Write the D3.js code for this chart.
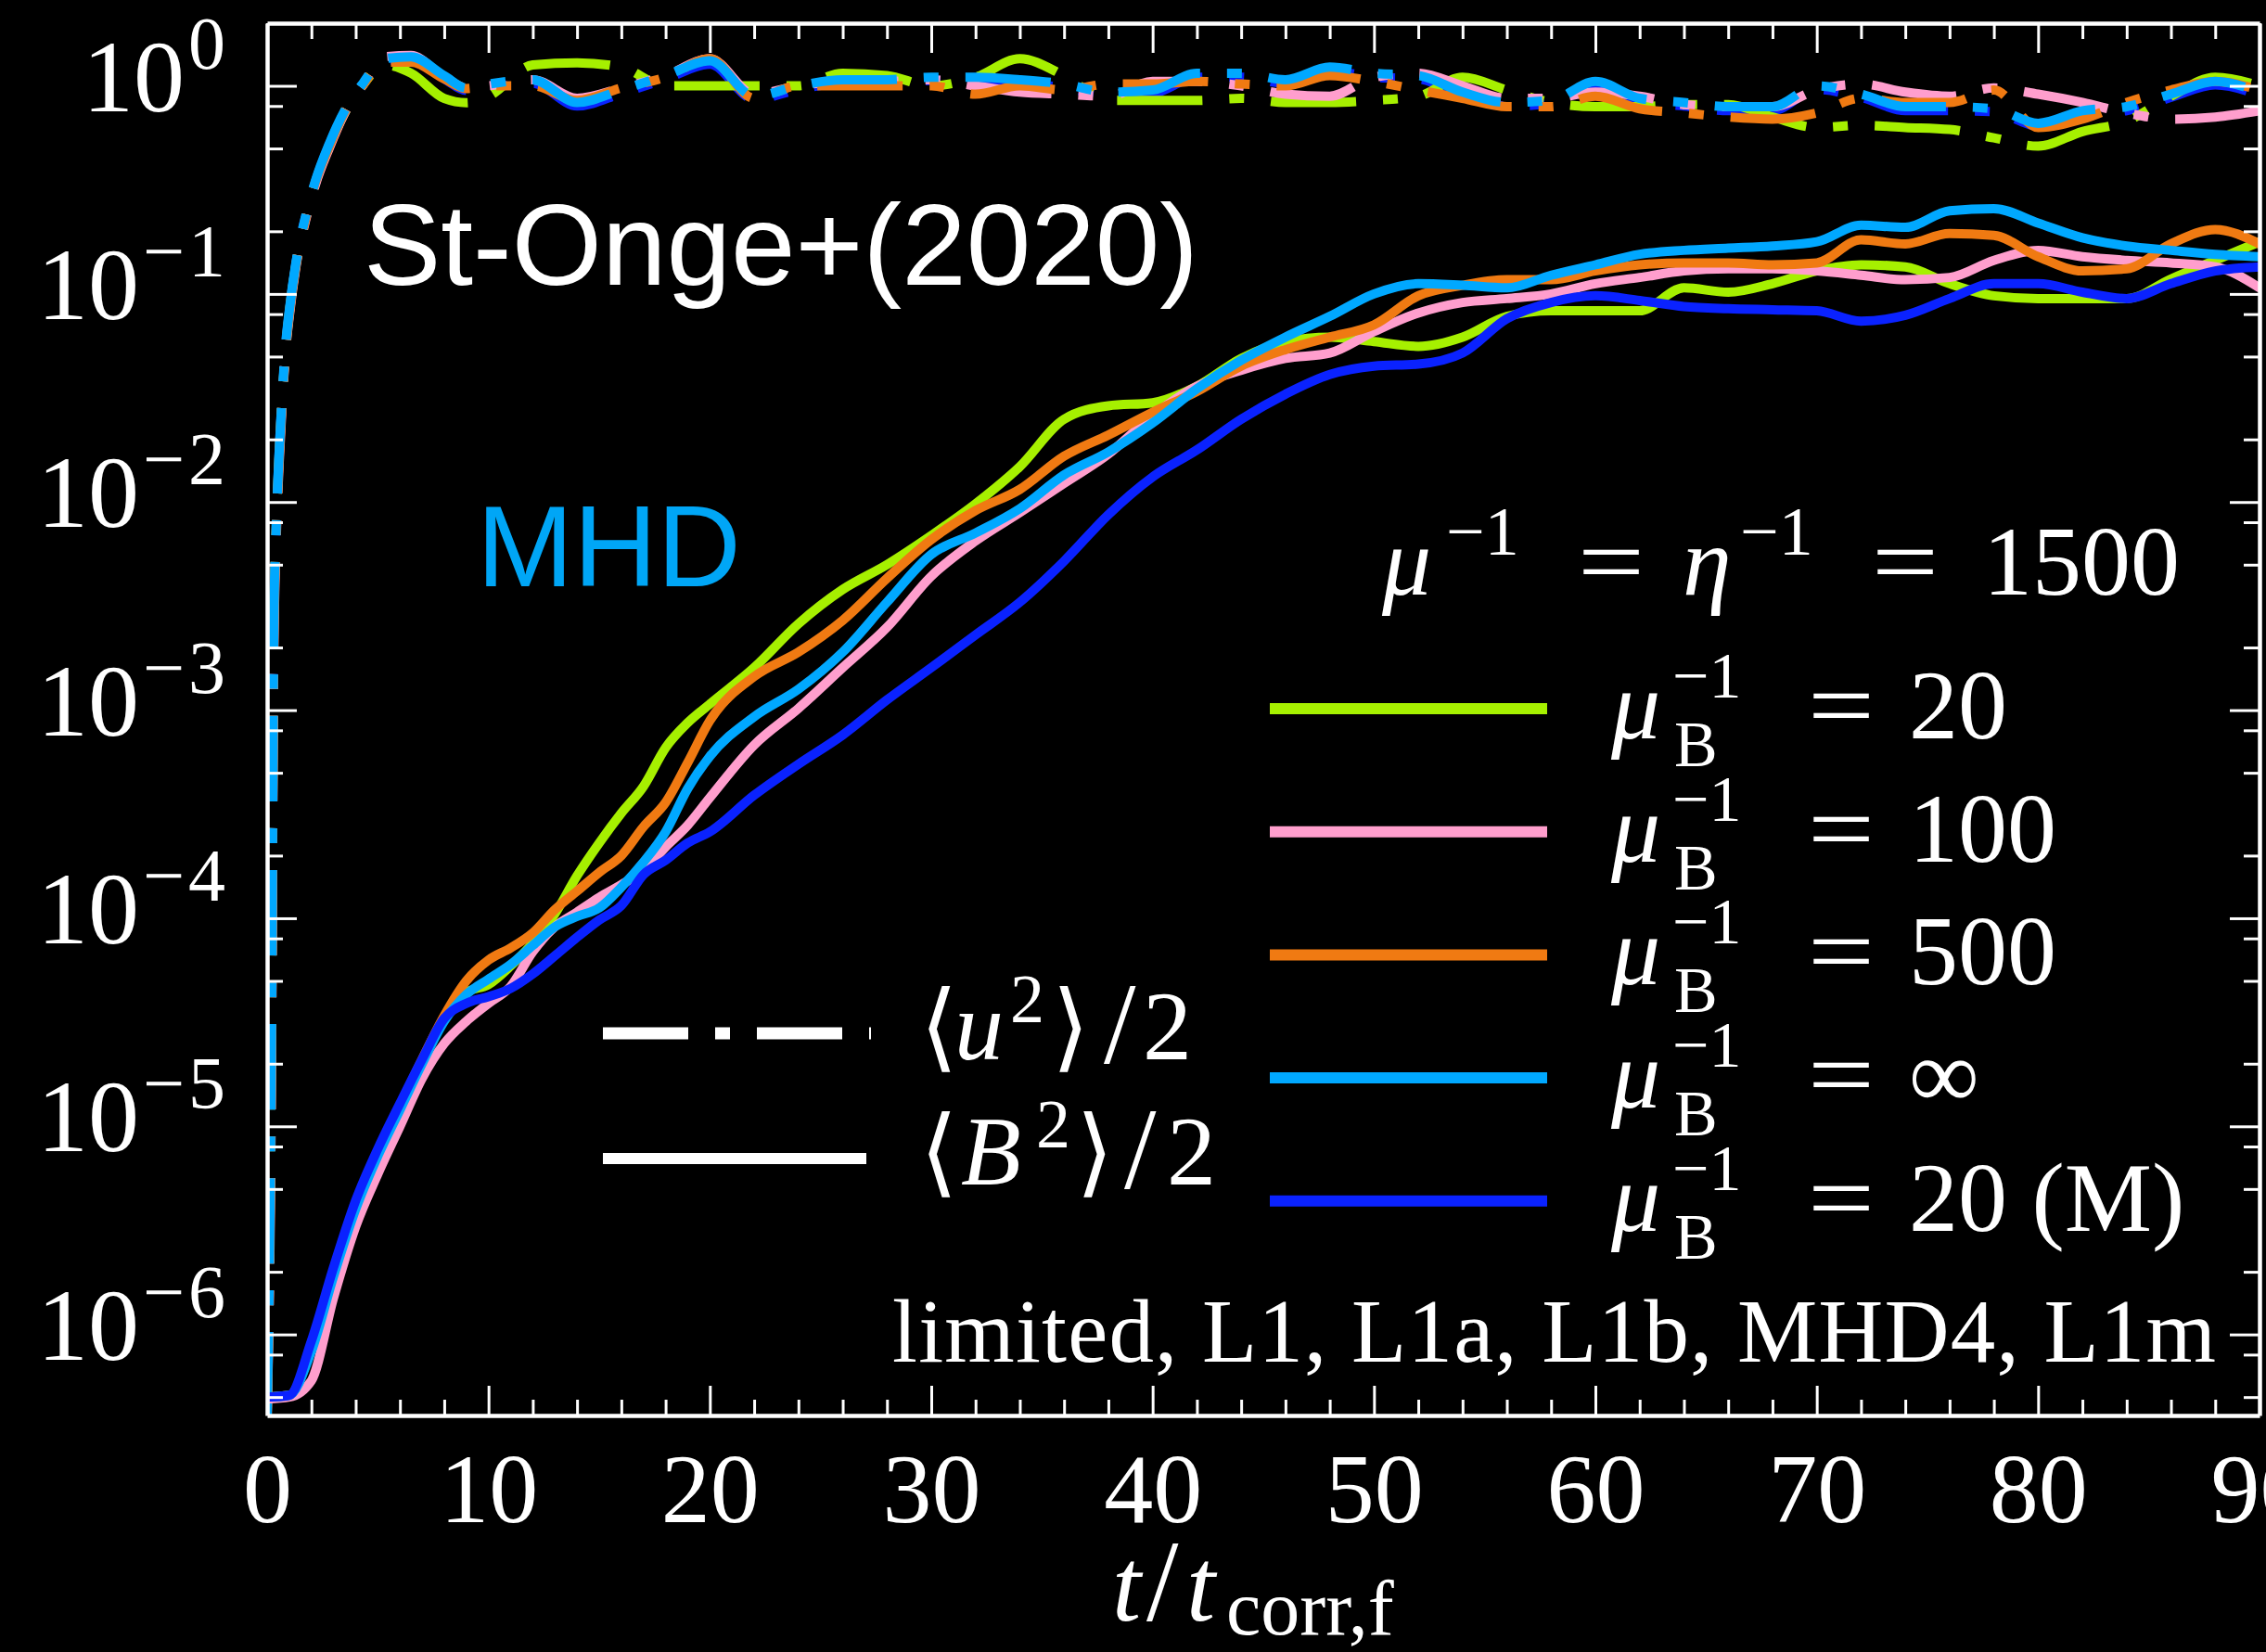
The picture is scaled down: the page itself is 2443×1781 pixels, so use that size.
<!DOCTYPE html>
<html>
<head>
<meta charset="utf-8">
<script src="https://cdn.jsdelivr.net/npm/d3@7"></script>
<style>
  html, body { margin: 0; padding: 0; background: #000; }
  svg { display: block; }
</style>
</head>
<body>
<svg id="chart" width="2443" height="1781"></svg>
<script>
// ---------- data ----------
// time grid for the magnetic energy <B^2>/2
const tB = [0,1,2,3,4,5,6,7,8,9,10,11,12,13,14,15,16,17,18,19,20,
  22,24,26,28,30,32,34,36,38,40,42,44,46,48,50,52,54,56,58,60,
  62,64,66,68,70,72,74,76,78,80,82,84,86,88,90];

// <B^2>/2, one array per run
const bMu20 = [5.0e-7,5.1e-7,8.5e-7,1.9e-6,4.1e-6,7.4e-6,1.2e-5,2.0e-5,3.3e-5,4.4e-5,4.8e-5,5.9e-5,7.6e-5,1.05e-4,1.6e-4,2.3e-4,3.2e-4,4.3e-4,6.6e-4,8.7e-4,1.07e-3,
  1.6e-3,2.6e-3,3.8e-3,5.0e-3,6.9e-3,9.8e-3,1.48e-2,2.5e-2,2.9e-2,3.0e-2,3.6e-2,4.9e-2,5.9e-2,6.2e-2,5.9e-2,5.6e-2,6.2e-2,7.8e-2,8.3e-2,8.3e-2,
  8.3e-2,0.107,0.102,0.112,0.129,0.138,0.135,0.112,0.098,0.095,0.095,0.095,0.118,0.145,0.178];
const bMu100 = [4.9e-7,5.0e-7,6.0e-7,1.5e-6,3.3e-6,5.9e-6,1.0e-5,1.7e-5,2.5e-5,3.2e-5,3.9e-5,4.7e-5,6.9e-5,9.1e-5,1.07e-4,1.26e-4,1.45e-4,1.7e-4,2.2e-4,2.8e-4,3.8e-4,
  6.8e-4,1.02e-3,1.6e-3,2.5e-3,4.4e-3,6.5e-3,8.9e-3,1.23e-2,1.7e-2,2.6e-2,3.6e-2,4.3e-2,4.9e-2,5.2e-2,6.6e-2,8.1e-2,9.1e-2,9.5e-2,0.100,0.112,
  0.120,0.129,0.132,0.132,0.129,0.123,0.117,0.120,0.145,0.162,0.151,0.145,0.141,0.135,0.107];
const bMu500 = [5.0e-7,5.1e-7,8.7e-7,2.0e-6,4.2e-6,7.6e-6,1.26e-5,2.1e-5,3.4e-5,5.0e-5,6.3e-5,7.2e-5,8.5e-5,1.10e-4,1.35e-4,1.66e-4,2.0e-4,2.75e-4,3.6e-4,5.6e-4,8.9e-4,
  1.45e-3,1.9e-3,2.7e-3,4.3e-3,6.6e-3,9.1e-3,1.15e-2,1.66e-2,2.1e-2,2.7e-2,3.4e-2,4.5e-2,5.4e-2,6.2e-2,7.1e-2,9.8e-2,0.110,0.117,0.117,0.129,
  0.138,0.141,0.141,0.138,0.141,0.182,0.174,0.195,0.191,0.151,0.129,0.132,0.174,0.204,0.174];
const bMuInf = [5.0e-7,5.1e-7,8.3e-7,1.9e-6,4.0e-6,7.2e-6,1.2e-5,2.0e-5,3.2e-5,4.3e-5,5.1e-5,6.0e-5,7.4e-5,9.1e-5,1.02e-4,1.12e-4,1.41e-4,1.86e-4,2.6e-4,4.2e-4,6.0e-4,
  9.3e-4,1.26e-3,1.9e-3,3.3e-3,5.6e-3,7.1e-3,9.3e-3,1.35e-2,1.74e-2,2.4e-2,3.5e-2,4.8e-2,6.2e-2,7.8e-2,0.100,0.112,0.110,0.107,0.123,0.138,
  0.155,0.162,0.166,0.170,0.178,0.214,0.209,0.251,0.257,0.219,0.186,0.170,0.162,0.155,0.151];
const bMu20M = [5.0e-7,5.1e-7,9.3e-7,2.1e-6,4.4e-6,7.8e-6,1.29e-5,2.1e-5,3.3e-5,3.9e-5,4.2e-5,4.6e-5,5.4e-5,6.6e-5,8.1e-5,9.8e-5,1.15e-4,1.62e-4,1.9e-4,2.3e-4,2.6e-4,
  3.9e-4,5.5e-4,7.6e-4,1.12e-3,1.6e-3,2.3e-3,3.3e-3,5.2e-3,8.7e-3,1.32e-2,1.78e-2,2.5e-2,3.3e-2,4.1e-2,4.5e-2,4.6e-2,5.2e-2,7.6e-2,9.1e-2,9.8e-2,
  9.3e-2,8.7e-2,8.5e-2,8.4e-2,8.3e-2,7.4e-2,7.9e-2,9.5e-2,0.112,0.112,0.102,0.095,0.112,0.129,0.135];

// time grid for the kinetic energy <u^2>/2
const tU = [0,0.2,0.3,0.4,0.55,0.7,0.85,1,1.3,1.8,2.2,2.8,3.5,4.3,5.3,6.5,8,9,
  10,12,14,16,18,20,22,24,26,28,30,32,34,36,38,40,42,44,46,48,50,
  52,54,56,58,60,62,64,66,68,70,72,74,76,78,80,82,84,86,88,90];

// <u^2>/2, one array per run
const uMu20 = [4.0e-7,3.0e-5,2.4e-3,6.9e-3,1.75e-2,3.4e-2,5.7e-2,8.1e-2,0.138,0.245,0.345,0.51,0.74,1.0,1.26,1.15,0.87,0.83,
  0.891,1.26,1.29,1.23,1.0,1.0,1.0,1.0,1.15,1.12,1.0,1.10,1.35,1.12,0.851,0.851,0.851,0.871,0.832,0.832,0.851,
  0.891,1.10,0.955,0.832,0.794,0.794,0.813,0.813,0.708,0.631,0.646,0.631,0.617,0.562,0.513,0.603,0.676,0.891,1.10,1.0];
const uMu100 = [4.0e-7,2.0e-5,1.8e-3,6.0e-3,1.6e-2,3.2e-2,5.5e-2,7.8e-2,0.135,0.24,0.34,0.50,0.74,1.0,1.38,1.40,1.10,0.98,
  1.0,1.07,0.871,0.977,1.12,1.35,0.912,1.0,1.05,1.05,1.07,1.0,0.933,0.912,0.891,1.05,1.05,1.0,0.912,0.891,1.10,
  1.15,1.0,0.871,0.871,0.933,0.891,0.813,0.794,0.794,0.955,1.02,0.933,0.891,0.977,0.912,0.832,0.741,0.692,0.708,0.759];
const uMu500 = [4.0e-7,2.5e-5,2.1e-3,6.5e-3,1.7e-2,3.3e-2,5.6e-2,8.0e-2,0.137,0.245,0.35,0.51,0.75,1.0,1.30,1.30,1.08,0.97,
  1.0,1.0,0.851,0.977,1.10,1.35,0.871,1.0,1.0,1.0,1.0,0.912,1.0,0.955,1.02,1.02,1.05,1.02,1.0,1.12,1.05,
  0.955,0.871,0.794,0.794,0.891,0.776,0.741,0.708,0.692,0.741,0.871,0.832,0.832,0.955,0.631,0.692,0.832,0.955,1.05,0.955];
const uMuInf = [4.0e-7,3.2e-5,2.5e-3,7.1e-3,1.8e-2,3.5e-2,5.9e-2,8.3e-2,0.141,0.251,0.355,0.525,0.759,1.02,1.35,1.38,1.12,0.977,
  1.02,1.07,0.832,0.955,1.12,1.32,0.891,1.0,1.07,1.07,1.10,1.10,1.07,1.02,0.933,0.955,1.15,1.15,1.07,1.23,1.15,
  1.12,0.933,0.832,0.851,1.05,0.871,0.832,0.794,0.794,1.0,0.912,0.794,0.794,0.776,0.661,0.759,0.794,0.912,1.05,0.933];
const uMu20M = [4.0e-7,3.0e-5,2.4e-3,7.0e-3,1.8e-2,3.4e-2,5.8e-2,8.2e-2,0.14,0.25,0.35,0.52,0.75,1.0,1.32,1.35,1.08,0.95,
  0.98,1.03,0.80,0.92,1.08,1.27,0.86,0.96,1.03,1.03,1.06,1.06,1.03,0.98,0.90,0.92,1.10,1.10,1.03,1.18,1.10,
  1.08,0.90,0.80,0.82,1.01,0.84,0.80,0.76,0.76,0.96,0.88,0.76,0.76,0.75,0.64,0.73,0.76,0.88,1.01,0.90];

// runs: legend values and colours
const runLabels = ["20", "100", "500", "\u221E", "20 (M)"];
const runColors = ["#a6f000", "#ff9ecd", "#f07a12", "#00a8ff", "#0a22ff"];
const bRuns = [bMu20, bMu100, bMu500, bMuInf, bMu20M];
const uRuns = [uMu20, uMu100, uMu500, uMuInf, uMu20M];

// ticks
const xMajorTicks = [0,10,20,30,40,50,60,70,80,90];
const xMinorTicks = [2,4,6,8,12,14,16,18,22,24,26,28,32,34,36,38,42,44,46,48,
  52,54,56,58,62,64,66,68,72,74,76,78,82,84,86,88];
const yMajorTicks = [1e-6,1e-5,1e-4,1e-3,1e-2,1e-1,1];
const yTickExponents = ["\u22126","\u22125","\u22124","\u22123","\u22122","\u22121","0"];
const yMinorTicks = [5e-7,8e-7,2e-6,5e-6,8e-6,2e-5,5e-5,8e-5,2e-4,5e-4,8e-4,
  2e-3,5e-3,8e-3,2e-2,5e-2,8e-2,0.2,0.5,0.8];

// ---------- drawing ----------
const W = 2443, H = 1781;
const serif = "'Liberation Serif', 'Times New Roman', serif";
const sans = "'Liberation Sans', Arial, Helvetica, sans-serif";
const svg = d3.select("#chart");
svg.append("rect").attr("width", W).attr("height", H).attr("fill", "#000");

const plotL = 288, plotR = 2436, plotT = 25, plotB = 1526;
const x = d3.scaleLinear().domain([0, 90]).range([plotL, plotR]);
const y = d3.scaleLog().domain([4.08e-7, 2]).range([plotB, plotT]);

svg.append("defs").append("clipPath").attr("id", "plotClip")
  .append("rect").attr("x", plotL).attr("y", plotT)
  .attr("width", plotR - plotL).attr("height", plotB - plotT);

const plot = svg.append("g").attr("clip-path", "url(#plotClip)");

function lineFor(times) {
  return d3.line()
    .x((d, i) => x(times[i]))
    .y(d => y(d))
    .curve(d3.curveMonotoneX);
}

// kinetic energy, dash-dotted
const uOrder = [4, 0, 1, 2, 3];
uOrder.forEach(k => {
  plot.append("path")
    .attr("d", lineFor(tU)(uRuns[k]))
    .attr("fill", "none")
    .attr("stroke", runColors[k])
    .attr("stroke-width", 10)
    .attr("stroke-dasharray", "92,29,16,29")
    .attr("stroke-linejoin", "round");
});

// magnetic energy, solid
[0, 1, 2, 3, 4].forEach(k => {
  plot.append("path")
    .attr("d", lineFor(tB)(bRuns[k]))
    .attr("fill", "none")
    .attr("stroke", runColors[k])
    .attr("stroke-width", 10)
    .attr("stroke-linejoin", "round")
    .attr("stroke-linecap", "round");
});

// ---------- axes ----------
function styleAxis(g, keepDomain) {
  if (keepDomain) g.select(".domain").attr("stroke", "#fff").attr("stroke-width", 4.5);
  else g.select(".domain").remove();
  g.selectAll(".tick line").attr("stroke", "#fff").attr("stroke-width", 3);
  g.selectAll(".tick text").attr("fill", "#fff")
    .attr("font-family", serif).attr("font-size", 106);
  g.attr("font-family", null).attr("font-size", null);
}

// bottom
svg.append("g").attr("transform", `translate(0,${plotB})`)
  .call(d3.axisBottom(x).tickValues(xMajorTicks).tickSize(-32).tickSizeOuter(0)
    .tickPadding(40).tickFormat(d3.format("d")))
  .call(g => styleAxis(g, true));
svg.append("g").attr("transform", `translate(0,${plotB})`)
  .call(d3.axisBottom(x).tickValues(xMinorTicks).tickSize(-17).tickSizeOuter(0).tickFormat(""))
  .call(g => styleAxis(g, false));
// top
svg.append("g").attr("transform", `translate(0,${plotT})`)
  .call(d3.axisTop(x).tickValues(xMajorTicks).tickSize(-32).tickSizeOuter(0).tickFormat(""))
  .call(g => styleAxis(g, true));
svg.append("g").attr("transform", `translate(0,${plotT})`)
  .call(d3.axisTop(x).tickValues(xMinorTicks).tickSize(-17).tickSizeOuter(0).tickFormat(""))
  .call(g => styleAxis(g, false));
// left
svg.append("g").attr("transform", `translate(${plotL},0)`)
  .call(d3.axisLeft(y).tickValues(yMajorTicks).tickSize(-32).tickSizeOuter(0).tickFormat(""))
  .call(g => styleAxis(g, true));
svg.append("g").attr("transform", `translate(${plotL},0)`)
  .call(d3.axisLeft(y).tickValues(yMinorTicks).tickSize(-17).tickSizeOuter(0).tickFormat(""))
  .call(g => styleAxis(g, false));
// right
svg.append("g").attr("transform", `translate(${plotR},0)`)
  .call(d3.axisRight(y).tickValues(yMajorTicks).tickSize(-32).tickSizeOuter(0).tickFormat(""))
  .call(g => styleAxis(g, true));
svg.append("g").attr("transform", `translate(${plotR},0)`)
  .call(d3.axisRight(y).tickValues(yMinorTicks).tickSize(-17).tickSizeOuter(0).tickFormat(""))
  .call(g => styleAxis(g, false));

// y tick labels 10^n
yMajorTicks.forEach((v, i) => {
  const t = svg.append("text")
    .attr("x", 247).attr("y", y(v) + 27)
    .attr("text-anchor", "end")
    .attr("font-family", serif).attr("font-size", 110).attr("fill", "#fff");
  t.append("tspan").text("10");
  t.append("tspan").attr("dy", -46).attr("dx", 4).attr("font-size", 80)
    .attr("letter-spacing", 4).text(yTickExponents[i]);
});

// ---------- text helpers ----------
function put(xp, yp, str, o = {}) {
  return svg.append("text")
    .attr("x", xp).attr("y", yp)
    .attr("font-family", o.family || serif)
    .attr("font-size", o.size || 106)
    .attr("font-style", o.italic ? "italic" : "normal")
    .attr("fill", o.fill || "#fff")
    .text(str);
}
function eq(xp, yp) {
  return put(xp, yp, "=", {})
    .attr("textLength", 72).attr("lengthAdjust", "spacingAndGlyphs");
}

// x axis title  t / t_corr,f
put(1199, 1747, "t", { italic: true, size: 112 });
put(1236, 1747, "/", { size: 124 });
put(1279, 1747, "t", { italic: true, size: 112 });
put(1322, 1762, "corr,f", { size: 84 });

// annotations
put(392, 307, "St-Onge+(2020)", { family: sans, size: 125 });
put(514, 632, "MHD", { family: sans, size: 125, fill: "#00a6f6" });
put(962, 1468, "limited, L1, L1a, L1b, MHD4, L1m", { size: 97 })
  .attr("textLength", 1427);

// legend header  mu^-1 = eta^-1 = 1500
put(1490, 641, "\u03BC", { italic: true });
put(1559, 598, "\u22121", { size: 74 });
eq(1701, 641);
put(1814, 641, "\u03B7", { italic: true });
put(1876, 598, "\u22121", { size: 74 });
eq(2018, 641);
put(2138, 641, "1500", {});

// run legend: mu_B^-1 = value, with sub- and superscript in one label
const rowY0 = 764, rowStep = 132.7;
runLabels.forEach((lab, r) => {
  const ly = rowY0 + r * rowStep;
  svg.append("line")
    .attr("x1", 1369).attr("x2", 1668).attr("y1", ly).attr("y2", ly)
    .attr("stroke", runColors[r]).attr("stroke-width", 12);
  const base = ly + 32;
  const lbl = svg.append("text")
    .attr("font-family", serif).attr("font-size", 106).attr("fill", "#fff");
  lbl.append("tspan").attr("x", 1737).attr("y", base)
    .attr("font-style", "italic").text("\u03BC");
  lbl.append("tspan").attr("x", 1805).attr("y", base + 30)
    .attr("font-size", 70).text("B");
  lbl.append("tspan").attr("x", 1803).attr("y", base - 44)
    .attr("font-size", 70).text("\u22121");
  eq(1949, base);
  put(2058, base, lab, {});
});

// line-style legend
const dashY = 1114, solidY = 1249;
svg.append("line")
  .attr("x1", 650).attr("x2", 939).attr("y1", dashY).attr("y2", dashY)
  .attr("stroke", "#fff").attr("stroke-width", 13)
  .attr("stroke-dasharray", "92,29,16,29");
svg.append("line")
  .attr("x1", 650).attr("x2", 934).attr("y1", solidY).attr("y2", solidY)
  .attr("stroke", "#fff").attr("stroke-width", 12);

const bracket = "'DejaVu Serif', 'DejaVu Sans', serif";
// <u^2>/2
put(992, 1142, "\u27E8", { family: bracket, size: 104 });
put(1029, 1142, "u", { italic: true });
put(1089, 1102, "2", { size: 74 });
put(1134, 1142, "\u27E9", { family: bracket, size: 104 });
put(1190, 1146, "/", { size: 124 });
put(1232, 1142, "2", {});
// <B^2>/2
put(992, 1277, "\u27E8", { family: bracket, size: 104 });
put(1036, 1277, "B", { italic: true });
put(1117, 1237, "2", { size: 74 });
put(1160, 1277, "\u27E9", { family: bracket, size: 104 });
put(1212, 1281, "/", { size: 124 });
put(1258, 1277, "2", {});
</script>
</body>
</html>
